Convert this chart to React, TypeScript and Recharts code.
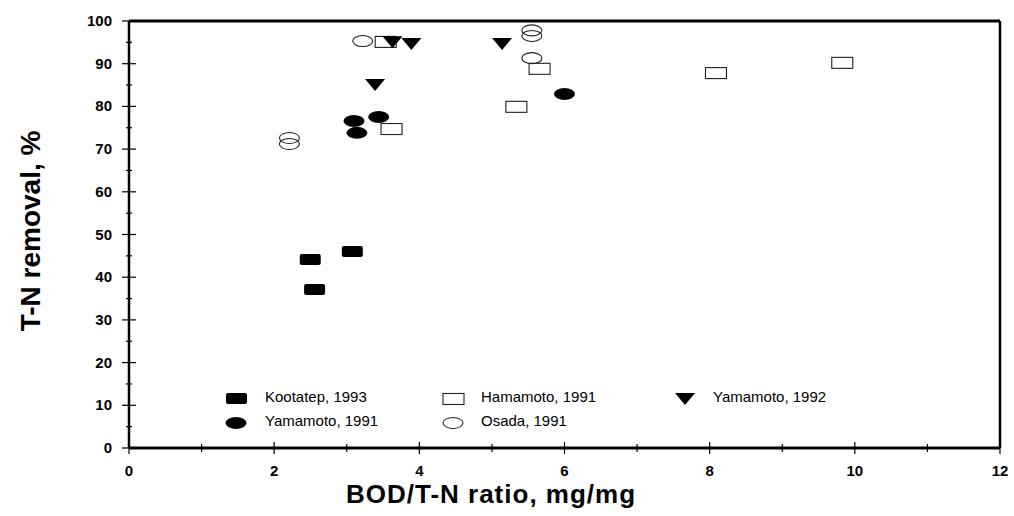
import React from "react"
import { ScatterChart, Scatter, XAxis, YAxis, ReferenceLine } from "recharts"

// BOD/T-N ratio (x) vs T-N removal % (y)
const kootatepX = [2.49, 2.55, 3.07]
const kootatepY = [44.0, 37.0, 45.9]
const yamamoto91X = [3.1, 3.14, 3.44, 6.0]
const yamamoto91Y = [76.6, 73.8, 77.5, 82.9]
const hamamotoX = [3.53, 3.61, 5.33, 5.65, 8.08, 9.82]
const hamamotoY = [95.1, 74.7, 79.9, 88.8, 87.8, 90.2]
const yamamoto92X = [3.39, 3.63, 3.89, 5.14]
const yamamoto92Y = [85.0, 95.0, 94.6, 94.6]
const osadaX = [2.21, 2.21, 3.22, 5.55, 5.55, 5.55]
const osadaY = [72.6, 71.2, 95.3, 97.8, 96.5, 91.3]

const xTicks = [0, 1, 2, 3, 4, 5, 6, 7, 8, 9, 10, 11, 12]
const yTicks = [0, 5, 10, 15, 20, 25, 30, 35, 40, 45, 50, 55, 60, 65, 70, 75, 80, 85, 90, 95, 100]

const FONT = '"Liberation Sans", Arial, sans-serif'

type Kind = "fillRect" | "openRect" | "triangle" | "fillEllipse" | "openEllipse"

const toPoints = (xs: number[], ys: number[]) => xs.map((x, i) => ({ x, y: ys[i] }))

function Marker({ kind, cx, cy }: { kind: Kind; cx: number; cy: number }) {
  switch (kind) {
    case "fillRect":
      return <rect x={cx - 10} y={cy - 6} width={21} height={11} rx={2} fill="#000" />
    case "openRect":
      return (
        <rect x={cx - 10} y={cy - 5.5} width={21} height={11} fill="#fff" stroke="#222" strokeWidth={1.1} />
      )
    case "triangle":
      return <path d={`M${cx - 10},${cy - 6} L${cx + 10},${cy - 6} L${cx},${cy + 6} Z`} fill="#000" />
    case "fillEllipse":
      return <ellipse cx={cx} cy={cy} rx={10.5} ry={6} fill="#000" />
    case "openEllipse":
      return <ellipse cx={cx} cy={cy} rx={10} ry={5.5} fill="none" stroke="#222" strokeWidth={1.1} />
  }
}

const series: { name: string; kind: Kind; data: { x: number; y: number }[] }[] = [
  { name: "Kootatep, 1993", kind: "fillRect", data: toPoints(kootatepX, kootatepY) },
  { name: "Yamamoto, 1991", kind: "fillEllipse", data: toPoints(yamamoto91X, yamamoto91Y) },
  { name: "Hamamoto, 1991", kind: "openRect", data: toPoints(hamamotoX, hamamotoY) },
  { name: "Yamamoto, 1992", kind: "triangle", data: toPoints(yamamoto92X, yamamoto92Y) },
  { name: "Osada, 1991", kind: "openEllipse", data: toPoints(osadaX, osadaY) },
]

// legend slots: [marker x, text x, row y]
const legendSlots: Record<string, [number, number, number]> = {
  "Kootatep, 1993": [236, 265, 397],
  "Hamamoto, 1991": [453, 481, 397],
  "Yamamoto, 1992": [685, 713, 397],
  "Yamamoto, 1991": [236, 265, 421],
  "Osada, 1991": [453, 481, 421],
}

const tickText = { fontFamily: FONT, fontWeight: 700, fontSize: 15 }

function XTick(props: any) {
  const { x, y, payload } = props
  const v = payload.value as number
  const major = v % 2 === 0
  const h = major ? 6 : 4
  return (
    <g>
      <line x1={x} x2={x} y1={y - h} y2={y + h} stroke="#000" strokeWidth={1.2} />
      {major && (
        <text x={x} y={y + 28} textAnchor="middle" style={tickText} fill="#000">
          {v}
        </text>
      )}
    </g>
  )
}

function YTick(props: any) {
  const { x, y, payload } = props
  const v = payload.value as number
  const major = v % 10 === 0
  const w = major ? 7 : 3
  return (
    <g>
      <line x1={x - w} x2={x + w} y1={y} y2={y} stroke="#000" strokeWidth={1.2} />
      {major && (
        <text x={x - 17} y={y + 5} textAnchor="end" style={tickText} fill="#000">
          {v}
        </text>
      )}
    </g>
  )
}

export default function App() {
  return (
    <div style={{ position: "absolute", left: 0, top: 0, width: 1014, height: 516, background: "#fff" }}>
      <ScatterChart width={1014} height={516} margin={{ top: 21, right: 14, bottom: 0, left: 0 }}>
        <XAxis
          type="number"
          dataKey="x"
          domain={[0, 12]}
          ticks={xTicks}
          interval={0}
          tickSize={0}
          tickMargin={0}
          tick={<XTick />}
          tickLine={false}
          axisLine={{ stroke: "#000", strokeWidth: 3 }}
          height={68}
          allowDataOverflow
        />
        <YAxis
          type="number"
          dataKey="y"
          domain={[0, 100]}
          ticks={yTicks}
          interval={0}
          tickSize={0}
          tickMargin={0}
          tick={<YTick />}
          tickLine={false}
          axisLine={{ stroke: "#000", strokeWidth: 2.5 }}
          width={129}
          allowDataOverflow
        />
        <ReferenceLine y={100} stroke="#000" strokeWidth={3} />
        <ReferenceLine x={12} stroke="#000" strokeWidth={2.5} />
        {series.map((s) => (
          <Scatter
            key={s.name}
            name={s.name}
            data={s.data}
            isAnimationActive={false}
            shape={(p: any) => <Marker kind={s.kind} cx={p.cx} cy={p.cy} />}
          />
        ))}
        <text
          x={491}
          y={503}
          textAnchor="middle"
          style={{ fontFamily: FONT, fontWeight: 700, fontSize: 26, letterSpacing: 1 }}
          fill="#000"
        >
          BOD/T-N ratio, mg/mg
        </text>
        <text
          x={0}
          y={0}
          transform="translate(40,231) rotate(-90)"
          textAnchor="middle"
          style={{ fontFamily: FONT, fontWeight: 700, fontSize: 28 }}
          fill="#000"
        >
          T-N removal, %
        </text>
      </ScatterChart>
      <svg width={1014} height={516} style={{ position: "absolute", left: 0, top: 0, pointerEvents: "none" }}>
        {series.map((s) => {
          const [mx, tx, ry] = legendSlots[s.name]
          return (
            <g key={s.name}>
              <Marker kind={s.kind} cx={mx} cy={ry + 2} />
              <text x={tx} y={ry + 5} style={{ fontFamily: FONT, fontSize: 15 }} fill="#000">
                {s.name}
              </text>
            </g>
          )
        })}
      </svg>
    </div>
  )
}
